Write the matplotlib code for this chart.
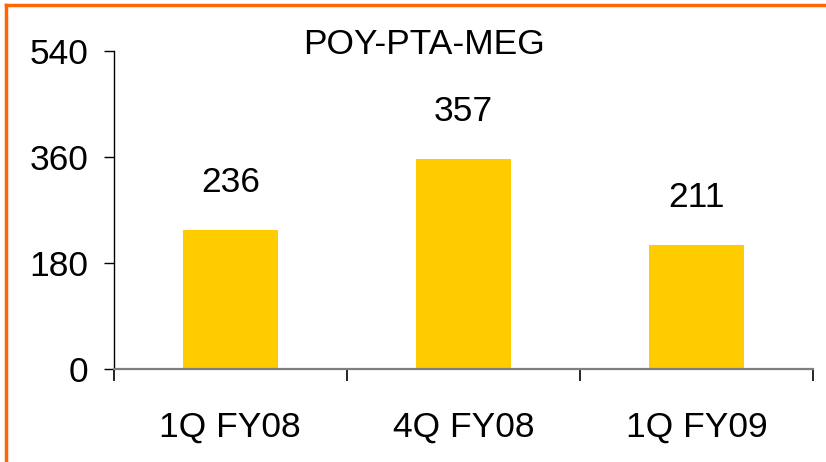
import matplotlib
matplotlib.use("Agg")
import matplotlib.pyplot as plt
from matplotlib.lines import Line2D

categories = ["1Q FY08", "4Q FY08", "1Q FY09"]
values = [236, 357, 211]
yticks = [0, 180, 360, 540]
title = "POY-PTA-MEG"

plt.rcParams["font.family"] = ["Liberation Sans", "DejaVu Sans"]
FS = 25.5

fig = plt.figure(figsize=(8.26, 4.62), dpi=100)
ax = fig.add_axes([0.1377, 0.2013, 0.8466, 0.6883])

x = list(range(len(categories)))
ax.bar(x, values, width=0.41, color="#FFCC00", zorder=2)

for xi, v in zip(x, values):
    ax.annotate(str(v), (xi, v), xytext=(0, 34), textcoords="offset points",
                ha="center", va="center", fontsize=FS)

ax.set_xlim(-0.5, len(categories) - 0.5)
ax.set_ylim(0, 540)
ax.set_yticks(yticks)
ax.set_yticklabels([str(t) for t in yticks], fontsize=FS)

# boundary ticks between categories, labels at category centres
ax.set_xticks([i - 0.5 for i in range(len(categories) + 1)])
ax.set_xticklabels([])
ax.set_xticks(x, minor=True)
ax.set_xticklabels(categories, minor=True, fontsize=FS)
ax.tick_params(axis="x", which="major", direction="out", length=8.6, width=1.2, color="black")
ax.tick_params(axis="x", which="minor", length=0, pad=30)
ax.tick_params(axis="y", direction="out", length=7.2, width=1, color="black", pad=11)

for s in ["top", "right"]:
    ax.spines[s].set_visible(False)
ax.spines["left"].set_color("black")
ax.spines["left"].set_linewidth(1)
ax.spines["bottom"].set_color("#7f7f7f")
ax.spines["bottom"].set_linewidth(1.6)
ax.spines["bottom"].set_zorder(3)

fig.text(424 / 826, 1 - 45 / 462, title, ha="center", va="center", fontsize=FS)

# orange frame on top and left edges
W, H = 826, 462
fig.add_artist(Line2D([6 / W, 1], [1 - 5 / H, 1 - 5 / H], transform=fig.transFigure,
                      color="#FF6600", lw=2.5))
fig.add_artist(Line2D([6 / W, 6 / W], [0, 1 - 5 / H], transform=fig.transFigure,
                      color="#FF6600", lw=2.5))

fig.savefig("out.png", dpi=100, facecolor="white")
